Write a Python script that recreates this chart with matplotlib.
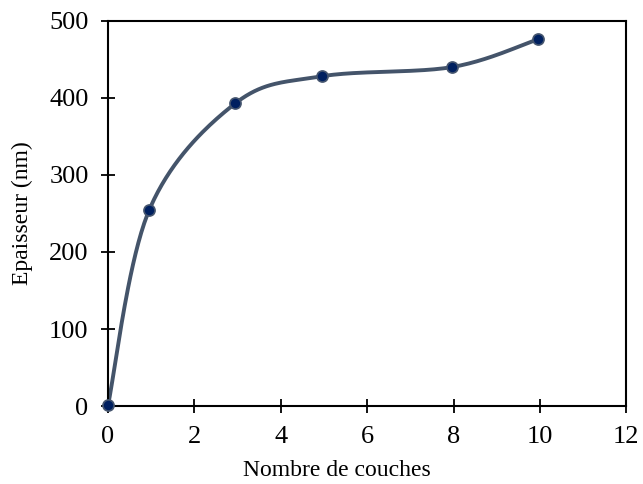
import numpy as np
import matplotlib.pyplot as plt

# Nombre de couches vs epaisseur
couches = [0, 0.95, 2.95, 4.95, 7.97, 9.95]
epaisseur = [1, 254, 393, 428, 440, 476]
x_ticks = [0, 2, 4, 6, 8, 10, 12]
y_ticks = [0, 100, 200, 300, 400, 500]


def excel_smooth(x, y, n=40):
    # Excel-style smoothed line: cubic Bezier segments (Catmull-Rom, tension 1/6)
    p = np.column_stack([x, y]).astype(float)
    p_ext = np.vstack([p[0], p, p[-1]])
    pts = []
    t = np.linspace(0, 1, n)[:, None]
    for i in range(len(p) - 1):
        p0, p1, p2, p3 = p_ext[i], p_ext[i + 1], p_ext[i + 2], p_ext[i + 3]
        c1 = p1 + (p2 - p0) / 6
        c2 = p2 - (p3 - p1) / 6
        seg = ((1 - t) ** 3) * p1 + 3 * ((1 - t) ** 2) * t * c1 + 3 * (1 - t) * t ** 2 * c2 + t ** 3 * p2
        pts.append(seg)
    pts = np.vstack(pts)
    return pts[:, 0], pts[:, 1]


plt.rcParams['font.family'] = ['Liberation Serif', 'DejaVu Serif']

fig = plt.figure(figsize=(6.43, 4.84), dpi=100)
ax = fig.add_axes([0.168, 0.161, 0.806, 0.796])

sx, sy = excel_smooth(couches, epaisseur)
ax.plot(sx, sy, color='#44546A', linewidth=2.8, solid_capstyle='round', zorder=2, clip_on=False)
ax.plot(couches, epaisseur, linestyle='none', marker='o', markersize=8,
        markerfacecolor='#002060', markeredgecolor='#46566f', markeredgewidth=1.2,
        zorder=3, clip_on=False)

ax.set_xlim(0, 12)
ax.set_ylim(0, 500)
ax.set_xticks(x_ticks)
ax.set_yticks(y_ticks)
ax.tick_params(direction='inout', length=10, width=1.3, labelsize=19, pad=9)
for s in ax.spines.values():
    s.set_linewidth(1.5)

ax.set_xlabel('Nombre de couches', fontsize=17)
ax.set_ylabel('Epaisseur (nm)', fontsize=17)
ax.xaxis.set_label_coords(0.442, -0.14)
ax.yaxis.set_label_coords(-0.145, 0.5)

fig.savefig('out.png', dpi=100)
